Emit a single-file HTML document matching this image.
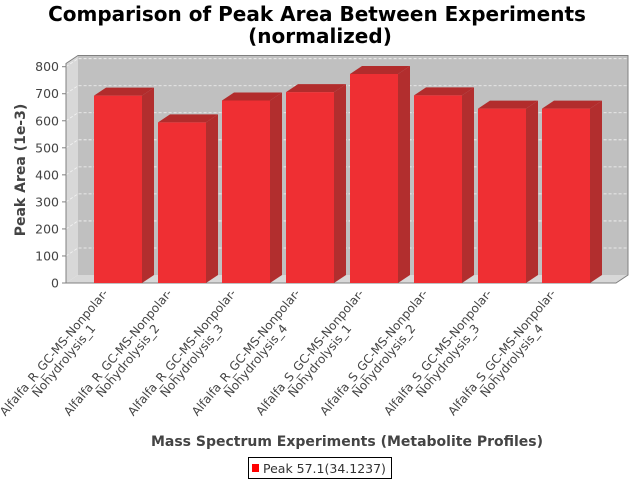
<!DOCTYPE html>
<html><head><meta charset="utf-8"><style>
body{margin:0;background:#fff;}
svg{display:block;font-family:"DejaVu Sans","Liberation Sans",sans-serif;}
</style></head><body>
<svg id="chart" width="640" height="480" viewBox="0 0 640 480">
<text x="317" y="21" text-anchor="middle" font-size="20" font-weight="bold" fill="#000">Comparison of Peak Area Between Experiments</text>
<text x="320" y="43" text-anchor="middle" font-size="20" font-weight="bold" fill="#000">(normalized)</text>
<g id="plot"></g>
<text transform="translate(25,170) rotate(-90)" text-anchor="middle" font-size="14" font-weight="bold" fill="#444">Peak Area (1e-3)</text>
<text x="347" y="446" text-anchor="middle" font-size="14" font-weight="bold" fill="#444">Mass Spectrum Experiments (Metabolite Profiles)</text>
<g>
<rect x="248.5" y="457.5" width="143" height="21" fill="#fff" stroke="#000"/>
<rect x="252" y="464" width="7" height="8" fill="#ff0000"/>
<text x="263" y="473" font-size="12.5" fill="#333">Peak 57.1(34.1237)</text>
</g>
</svg>
<script>
const categories1 = ["Alfalfa_R_GC-MS-Nonpolar-","Alfalfa_R_GC-MS-Nonpolar-","Alfalfa_R_GC-MS-Nonpolar-","Alfalfa_R_GC-MS-Nonpolar-","Alfalfa_S_GC-MS-Nonpolar-","Alfalfa_S_GC-MS-Nonpolar-","Alfalfa_S_GC-MS-Nonpolar-","Alfalfa_S_GC-MS-Nonpolar-"];
const categories2 = ["Nohydrolysis_1","Nohydrolysis_2","Nohydrolysis_3","Nohydrolysis_4","Nohydrolysis_1","Nohydrolysis_2","Nohydrolysis_3","Nohydrolysis_4"];
const values = [693, 594, 675, 706, 773, 694, 645, 645];
const yTicks = [0,100,200,300,400,500,600,700,800];

const NS="http://www.w3.org/2000/svg";
const g=document.getElementById('plot');
const X0=66, Y0=283, DX=12, DY=8, RIGHT=616, YMAX=812;
const k=216.3/800;
function y(v){return Y0 - v*k;}
function xBar(i){return 94 + i*64;}
function mk(tag,attrs,parent){const e=document.createElementNS(NS,tag);for(const a in attrs)e.setAttribute(a,attrs[a]);(parent||g).appendChild(e);return e;}
const plotTop=y(YMAX);
let e=mk('polygon',{points:`${X0},${Y0} ${X0},${plotTop} ${X0+DX},${plotTop-DY} ${X0+DX},${Y0-DY}`,fill:'#d8d8d8',stroke:'none'});


e=mk('polygon',{points:`${X0},${Y0} ${RIGHT},${Y0} ${RIGHT+DX},${Y0-DY} ${X0+DX},${Y0-DY}`,fill:'#d8d8d8',stroke:'none'});


e=mk('rect',{x:X0+DX,y:plotTop-DY,width:RIGHT-X0,height:Y0-plotTop,fill:'#c0c0c0'});


e=mk('polygon',{points:`${X0},${Y0} ${X0},${plotTop} ${X0+DX},${plotTop-DY} ${RIGHT+DX},${plotTop-DY} ${RIGHT+DX},${Y0-DY} ${RIGHT},${Y0}`,fill:'none',stroke:'#808080','stroke-width':1});


yTicks.forEach(t=>{
  const yy=y(t);
  if(t>0){
    const l=mk('polyline',{points:`${X0},${yy} ${X0+DX},${yy-DY} ${RIGHT+DX},${yy-DY}`,fill:'none',stroke:'#f4f4f4','stroke-width':0.8,'stroke-dasharray':'3,2'});
    
    
  }
  const tk=mk('line',{x1:X0-4,y1:yy,x2:X0,y2:yy,stroke:'#808080'});
  
  
  const tx=mk('text',{x:X0-7,y:yy+4.5,'text-anchor':'end','font-size':12.5,fill:'#444'});
  tx.textContent=t;
  
  
});
e=mk('line',{x1:X0,y1:plotTop,x2:X0,y2:Y0,stroke:'#808080'});


e=mk('line',{x1:X0,y1:Y0,x2:RIGHT,y2:Y0,stroke:'#808080'});


const W=48;
values.forEach((v,i)=>{
  const x=xBar(i), yt=y(v);
  const grp=mk('g',{});
  
  
  mk('polygon',{points:`${x+W},${Y0} ${x+W},${yt} ${x+W+DX},${yt-DY} ${x+W+DX},${Y0-DY}`,fill:'#b22e2e'},grp);
  mk('polygon',{points:`${x},${yt} ${x+DX},${yt-DY} ${x+W+DX},${yt-DY} ${x+W},${yt}`,fill:'#b22c2c'},grp);
  mk('rect',{x:x,y:yt,width:W,height:Y0-yt,fill:'#ef2f33'},grp);
  const cx=x+W/2-61, cy=355;
  const lg=mk('g',{transform:`translate(${cx},${cy}) rotate(-50)`,'font-size':12,fill:'#444','text-anchor':'middle'});
  
  
  const t1=mk('text',{x:0,y:0},lg); t1.textContent=categories1[i];
  const t2=mk('text',{x:0,y:13},lg); t2.textContent=categories2[i];
});
</script>
</body></html>
